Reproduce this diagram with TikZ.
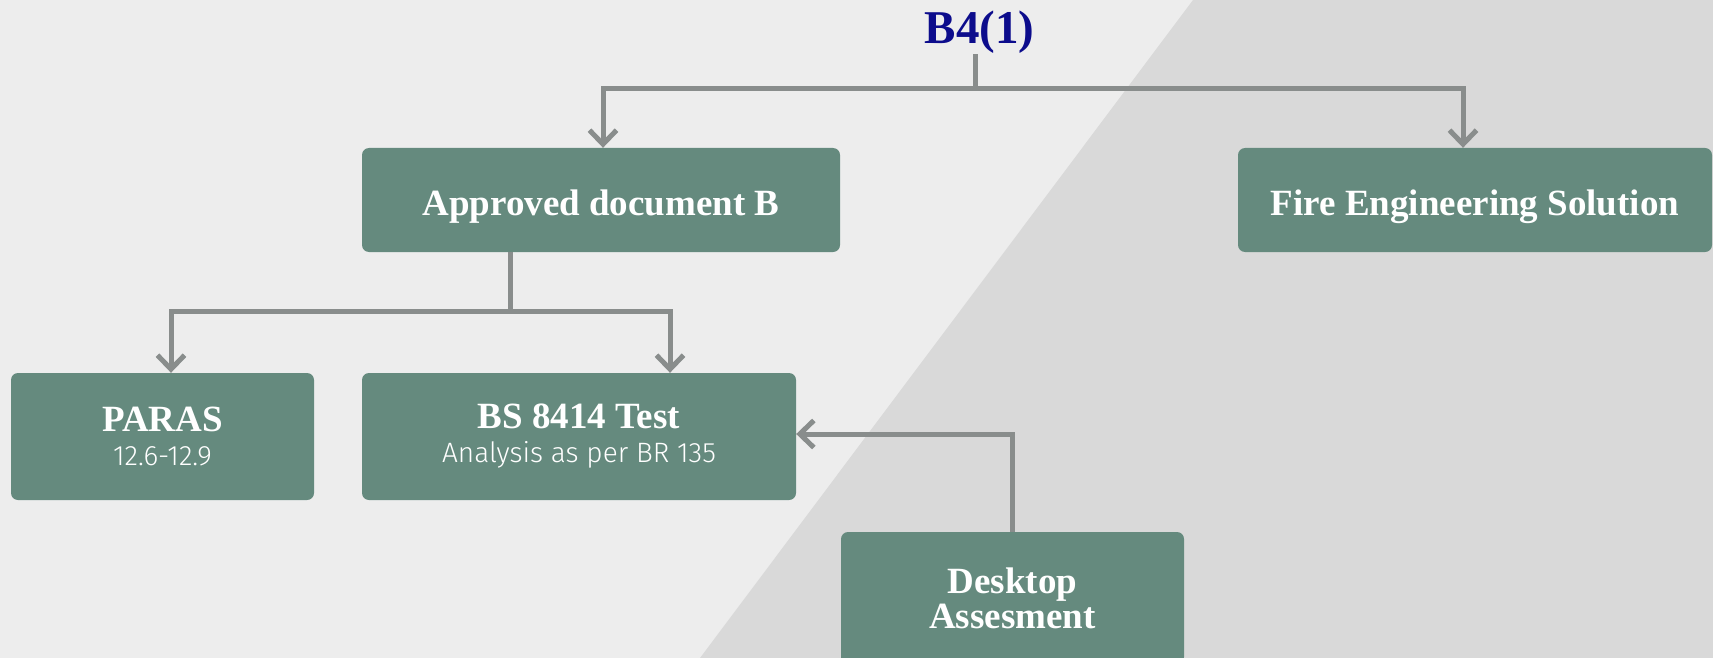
\documentclass[tikz,border=0pt]{standalone}
\usepackage{fontspec}
\setmainfont{Liberation Serif}
\newfontfamily\subfont{Fira Sans Light}
\usetikzlibrary{arrows.meta,positioning}
\definecolor{sage}{RGB}{101,138,126}
\definecolor{wire}{RGB}{137,141,140}
\definecolor{bgleft}{RGB}{237,237,237}
\definecolor{bgright}{RGB}{217,217,217}
\definecolor{headblue}{RGB}{12,12,140}
\newcommand\subline[1]{{\subfont\mdseries\fontsize{28}{34}\selectfont #1}}
\tikzset{
  box/.style={fill=sage,rounded corners=7pt,text=white,align=center,inner sep=0pt,
    font=\fontsize{37}{34}\selectfont\bfseries},
  onebox/.style={box,minimum height=104pt,text height=30pt,text depth=0pt},
  link/.style={wire,line width=5pt},
  arr/.style={link,-{Straight Barb[length=14pt,width=27pt]}},
}

\begin{document}
\begin{tikzpicture}[x=1pt,y=-1pt]
  \path[use as bounding box] (0,0) rectangle (1713,658);
  \clip (0,0) rectangle (1713,658);
  % two-tone background
  \fill[bgleft] (0,0) rectangle (1713,658);
  \fill[bgright] (1193,0) -- (1713,0) -- (1713,658) -- (700,658) -- cycle;

  \node[font=\fontsize{47}{50}\selectfont\bfseries,text=headblue,inner sep=0pt,anchor=base]
    (title) at (979.5,44) {B4(1)};

  \node[onebox,minimum width=478pt] (approved) at (601,200) {Approved document B};
  \node[onebox,minimum width=474pt] (fire) at (1475,200) {Fire Engineering Solution};
  \node[box,minimum width=303pt,minimum height=127pt]
    (paras) at (162.5,436.5) {PARAS\\\subline{12.6-12.9}};
  \node[box,minimum width=434pt,minimum height=127pt]
    (bs) at (579,436.5) {BS 8414 Test\\\subline{Analysis as per BR 135}};
  \node[box,minimum width=343pt,minimum height=132pt]
    (desktop) at (1012.5,598) {Desktop\\[1pt]Assesment};

  % connectors
  \draw[link] ([xshift=-4pt]title.south) -- ++(0,34) coordinate (fork1);
  \draw[arr] (fork1) -| ([xshift=2pt]approved.north);
  \draw[arr] (fork1) -| ([xshift=-12pt]fire.north);
  \draw[link] ([xshift=-91pt]approved.south) -- ++(0,59) coordinate (fork2);
  \draw[arr] (fork2) -| ([xshift=8.5pt]paras.north);
  \draw[arr] (fork2) -| ([xshift=91pt]bs.north);
  \draw[arr] (desktop.north) |- ([yshift=2.5pt]bs.east);
\end{tikzpicture}
\end{document}
